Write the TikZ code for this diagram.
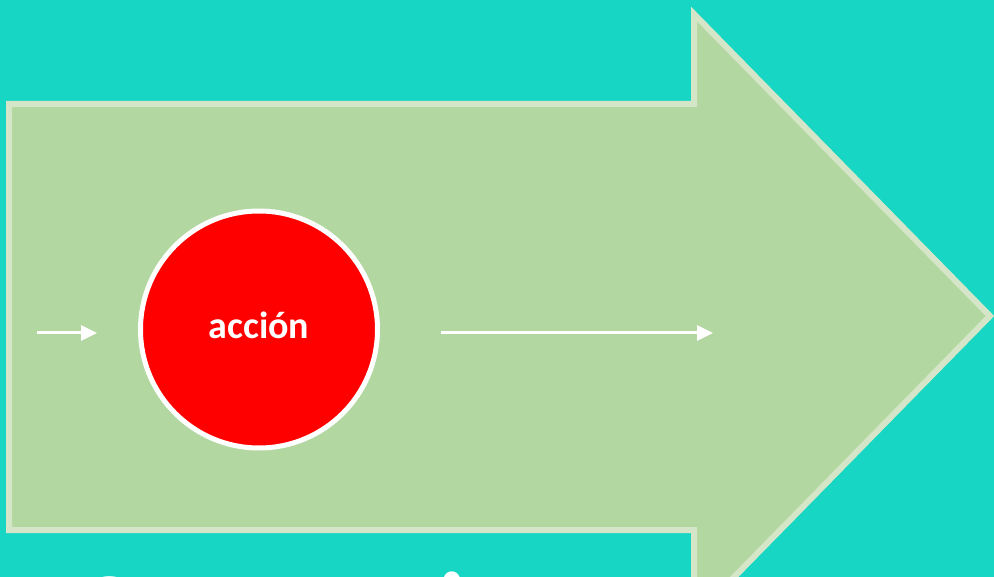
\documentclass[tikz,border=0pt]{standalone}
\usepackage{fontspec}
\setmainfont{Carlito}
\usetikzlibrary{arrows.meta}
\definecolor{bgteal}{RGB}{23,214,196}
\definecolor{arrowgreen}{RGB}{179,215,160}
\definecolor{arrowedge}{RGB}{213,230,200}
\definecolor{actred}{RGB}{255,0,0}
\begin{document}
\begin{tikzpicture}[x=1pt,y=-1pt,
  bigarrow/.style={fill=arrowgreen, draw=arrowedge, line width=6pt, line join=miter, miter limit=10},
  actcircle/.style={circle, fill=actred, draw=white, line width=5pt, minimum size=237pt, inner sep=0pt,
    text=white, font=\bfseries\fontsize{38}{44}\selectfont, text height=18pt, text depth=0pt},
  flow/.style={draw=white, line width=3pt, -{Triangle[length=16pt,width=15pt]}},
  title/.style={text=white, font=\bfseries\fontsize{105}{120}\selectfont, inner sep=0pt, anchor=base west}]
\clip (0,0) rectangle (994,577);
\fill[bgteal] (0,0) rectangle (994,577);
\draw[bigarrow] (9,104) -- (694,104) -- (694,14) -- (990,316) -- (694,618) -- (694,530) -- (9,530) -- cycle;
\node[actcircle] (act) at (259,329.5) {acción};
\coordinate (inS) at (37,333);
\coordinate (inE) at (97,333);
\coordinate (outS) at (441,333);
\coordinate (outE) at (713,333);
\draw[flow] (inS) -- (inE);
\draw[flow] (outS) -- (outE);
\node[title] (ttl) at (83,645) {Secuencia};
\end{tikzpicture}
\end{document}
